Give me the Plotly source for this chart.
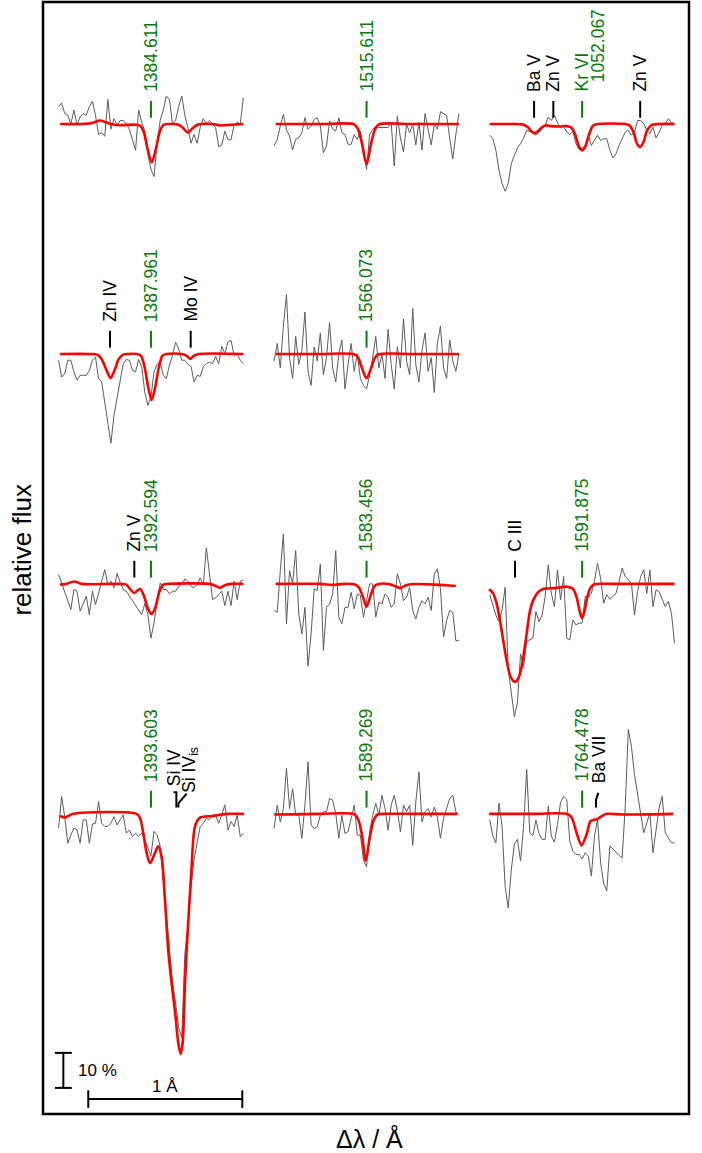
import numpy as np
import plotly.graph_objects as go

# ---------------------------------------------------------------------------
# Observed spectra: relative flux sampled every 0.02 A from -0.60 to +0.60 A
# around the line centre of each panel.
# ---------------------------------------------------------------------------
obs_1384 = [1.05, 1.06, 1.03, 1.025, 1.0, 1.04, 0.997, 1.02, 1.03, 1.025, 1.05, 1.065, 1.025, 0.97, 0.975, 0.965,
            1.07, 0.985, 1.015, 0.997, 1.01, 1.01, 1.0, 0.985, 0.955, 0.925, 1.04, 1.005, 0.98, 0.915, 0.87, 0.85,
            0.945, 1.01, 1.04, 1.08, 1.07, 1.0, 1.01, 1.05, 1.08, 1.025, 0.99, 0.945, 0.97, 0.945, 0.99, 1.015, 1.0,
            1.01, 1.0, 0.99, 0.935, 0.94, 0.98, 0.955, 0.955, 0.997, 1.005, 1.0, 1.075]
obs_1515 = [0.937, 0.956, 0.994, 1.028, 0.983, 0.966, 0.926, 0.956, 0.961, 0.975, 1.018, 0.985, 0.994, 1.013, 1.018,
            0.994, 0.918, 0.937, 1.009, 0.985, 0.98, 1.018, 0.975, 0.97, 0.942, 0.942, 0.97, 0.956, 0.98, 0.918, 0.87,
            0.97, 0.985, 0.994, 0.99, 0.99, 0.99, 0.99, 1.004, 0.88, 1.023, 0.96, 0.92, 1.0, 0.975, 1.0, 0.94, 1.005,
            0.925, 1.03, 0.985, 0.94, 1.0, 0.985, 1.035, 1.03, 1.025, 0.96, 0.90, 0.97, 1.03]
obs_1052 = [0.968, 0.958, 0.925, 0.868, 0.83, 0.808, 0.83, 0.887, 0.91, 0.931, 0.944, 0.96, 0.982, 0.979, 0.975,
            0.968, 0.977, 0.985, 0.996, 1.02, 1.01, 1.025, 1.004, 0.989, 0.994, 0.977, 0.97, 0.979, 0.944, 0.928,
            0.931, 0.939, 0.966, 0.939, 0.953, 0.968, 0.953, 0.958, 0.958, 0.925, 0.903, 0.915, 0.939, 0.958, 0.977,
            0.982, 0.968, 0.977, 1.01, 1.01, 1.001, 0.982, 0.972, 0.991, 0.96, 0.977, 0.996, 1.001, 1.015, 1.004, 1.001]
obs_1387 = [0.982, 0.934, 0.943, 0.982, 0.982, 0.949, 0.925, 0.939, 0.939, 0.939, 0.953, 0.982, 0.991, 0.93, 0.92,
            0.858, 0.796, 0.745, 0.825, 0.877, 0.93, 0.972, 0.984, 0.982, 0.953, 0.949, 0.984, 0.963, 0.891, 0.853,
            0.877, 0.949, 0.97, 0.977, 0.939, 0.93, 0.968, 0.996, 1.034, 1.015, 0.982, 0.982, 0.97, 0.965, 0.92, 0.939,
            0.936, 0.963, 0.972, 0.977, 0.972, 0.993, 0.972, 1.022, 1.001, 1.034, 1.039, 0.996, 0.999, 0.982, 0.972]
obs_1566 = [0.98, 1.03, 0.96, 1.08, 1.17, 0.99, 0.93, 1.05, 0.97, 1.01, 1.12, 0.95, 0.91, 1.02, 0.98, 1.06, 0.94,
            0.99, 1.09, 0.96, 0.92, 1.0, 1.04, 0.9, 0.97, 1.03, 0.95, 1.0, 0.93, 0.91, 0.9, 0.94, 0.99, 1.05, 0.96,
            1.0, 0.93, 1.07, 0.97, 0.9, 1.02, 0.96, 1.1, 0.98, 0.94, 1.13, 0.97, 0.92, 1.01, 1.06, 0.95, 0.99, 0.89,
            1.03, 1.08, 0.96, 0.93, 1.04, 0.98, 0.95, 1.0]
obs_1392 = [1.027, 1.003, 0.979, 0.95, 0.927, 0.984, 0.979, 0.922, 0.946, 0.965, 0.912, 0.979, 0.941, 0.974, 1.003,
            1.041, 0.998, 1.008, 0.989, 1.03, 1.005, 0.984, 0.979, 0.965, 0.955, 0.941, 0.927, 0.912, 0.944, 0.912,
            0.845, 0.889, 0.95, 1.003, 0.984, 0.984, 0.972, 0.979, 0.979, 0.993, 0.998, 1.014, 1.008, 0.993, 0.989,
            0.998, 1.017, 0.998, 1.103, 1.027, 0.955, 0.96, 0.97, 0.979, 0.938, 0.979, 0.938, 1.008, 0.955, 1.008, 1.01]
obs_1583 = [0.924, 0.919, 1.038, 1.143, 0.886, 1.038, 1.0, 1.095, 0.914, 0.857, 0.933, 0.765, 0.857, 0.986, 0.981,
            1.057, 0.81, 0.933, 0.943, 0.971, 1.095, 0.905, 0.886, 0.933, 0.933, 0.976, 0.929, 0.971, 0.967, 0.905,
            0.952, 1.0, 1.0, 0.905, 0.948, 0.943, 0.971, 0.962, 0.933, 0.943, 1.029, 1.0, 0.952, 0.962, 0.99, 0.924,
            0.9, 0.933, 0.952, 0.943, 0.962, 0.924, 1.029, 1.043, 0.986, 0.848, 0.895, 0.924, 0.919, 0.838, 0.838]
obs_1591 = [0.969, 0.94, 0.911, 0.892, 0.925, 0.99, 0.754, 0.69, 0.62, 0.66, 0.8, 0.764, 0.835, 0.84, 0.845, 0.921,
            0.892, 0.911, 0.964, 1.054, 0.973, 0.935, 1.04, 0.954, 1.021, 0.845, 0.84, 0.897, 0.883, 0.888, 0.888,
            0.964, 0.964, 0.973, 1.007, 1.059, 1.016, 0.945, 0.969, 0.956, 0.966, 0.973, 1.007, 1.045, 1.021, 1.011,
            1.002, 0.911, 0.978, 1.021, 1.04, 0.973, 1.04, 0.935, 0.983, 0.978, 0.959, 0.935, 0.95, 0.916, 0.83]
obs_1393 = [0.959, 1.05, 0.992, 0.916, 0.94, 0.959, 0.954, 0.916, 0.983, 0.983, 0.916, 0.971, 0.973, 1.035, 0.973,
            0.964, 0.964, 0.973, 0.992, 0.968, 0.983, 0.997, 0.945, 0.954, 0.935, 0.945, 0.935, 0.945, 0.926, 0.90,
            0.88, 0.95, 0.94, 0.907, 0.811, 0.726, 0.62, 0.52, 0.46, 0.39, 0.36, 0.60, 0.68, 0.79, 0.87, 0.92, 0.964,
            0.973, 0.987, 0.983, 0.997, 0.997, 0.973, 0.997, 1.026, 0.954, 0.978, 0.964, 0.997, 0.935, 0.945]
obs_1589 = [0.958, 1.025, 0.977, 1.015, 1.13, 1.015, 1.072, 0.996, 0.996, 0.93, 1.025, 1.149, 0.968, 0.958, 0.963,
            0.996, 1.006, 1.006, 1.044, 1.039, 1.001, 0.93, 0.996, 0.944, 0.949, 0.987, 1.025, 0.939, 0.939, 0.868,
            0.849, 0.949, 0.996, 1.03, 0.996, 1.053, 1.015, 0.953, 1.025, 1.053, 1.01, 0.949, 1.025, 1.006, 1.025, 0.91,
            1.034, 1.12, 0.977, 1.006, 1.015, 0.991, 1.02, 0.991, 0.93, 0.987, 1.015, 1.044, 1.053, 1.006, 0.996]
obs_1764 = [0.984, 0.936, 0.917, 1.031, 0.965, 0.793, 0.731, 0.84, 0.914, 0.927, 0.865, 0.965, 1.127, 0.946, 0.938,
            0.982, 0.944, 0.927, 0.927, 1.022, 0.936, 0.919, 0.97, 1.033, 1.05, 1.041, 0.922, 0.893, 0.884, 0.884,
            0.871, 0.889, 0.879, 0.822, 0.936, 0.984, 0.86, 0.80, 0.78, 0.908, 0.9, 0.89, 0.881, 0.874, 1.022, 1.241,
            1.193, 1.112, 1.06, 1.008, 0.946, 0.974, 1.003, 0.889, 0.946, 1.017, 1.05, 0.946, 0.931, 0.917, 0.917]

# ---------------------------------------------------------------------------
# Synthetic (model) spectra: wavelength offset [A] and relative flux
# ---------------------------------------------------------------------------
mod_1384_dl = [-0.59, -0.45, -0.38, -0.33, -0.28, -0.22, -0.10, -0.07, -0.045, -0.025, 0.005, 0.035, 0.055, 0.08,
               0.12, 0.18, 0.21, 0.24, 0.27, 0.31, 0.40, 0.45, 0.52, 0.60]
mod_1384_f = [1.0, 1.0, 1.003, 1.01, 1.003, 0.997, 0.998, 0.995, 0.975, 0.935, 0.89, 0.935, 0.975, 0.997, 1.0, 0.998,
              0.988, 0.975, 0.988, 0.999, 1.0, 0.996, 0.998, 1.0]
mod_1515_dl = [-0.59, -0.30, -0.08, -0.055, -0.03, 0.0, 0.03, 0.055, 0.08, 0.30, 0.60]
mod_1515_f = [1.0, 1.0, 0.999, 0.985, 0.945, 0.885, 0.945, 0.985, 0.999, 1.0, 1.0]
mod_1052_dl = [-0.60, -0.45, -0.38, -0.35, -0.33, -0.31, -0.285, -0.26, -0.235, -0.20, -0.15, -0.10, -0.07, -0.045,
               -0.02, 0.0, 0.02, 0.045, 0.07, 0.10, 0.28, 0.31, 0.335, 0.355, 0.376, 0.40, 0.42, 0.45, 0.50, 0.60]
mod_1052_f = [1.0, 1.0, 0.998, 0.99, 0.979, 0.974, 0.98, 0.991, 0.996, 0.994, 0.993, 0.994, 0.99, 0.97, 0.935, 0.925,
              0.935, 0.97, 0.995, 1.0, 1.0, 0.995, 0.975, 0.945, 0.934, 0.95, 0.98, 0.997, 1.0, 1.0]
mod_1387_dl = [-0.59, -0.40, -0.35, -0.32, -0.29, -0.262, -0.235, -0.21, -0.18, -0.15, -0.09, -0.065, -0.04, -0.02,
               0.004, 0.03, 0.05, 0.075, 0.10, 0.20, 0.23, 0.255, 0.28, 0.31, 0.60]
mod_1387_f = [1.0, 1.0, 0.998, 0.985, 0.955, 0.931, 0.955, 0.985, 0.998, 1.0, 1.0, 0.995, 0.96, 0.91, 0.868, 0.91,
              0.96, 0.995, 1.0, 1.0, 0.995, 0.986, 0.995, 1.0, 1.0]
mod_1566_dl = [-0.59, -0.30, -0.08, -0.055, -0.03, 0.0, 0.03, 0.055, 0.08, 0.30, 0.60]
mod_1566_f = [1.0, 1.0, 0.999, 0.99, 0.96, 0.93, 0.96, 0.99, 0.999, 1.0, 1.0]
mod_1392_dl = [-0.59, -0.55, -0.50, -0.45, -0.40, -0.20, -0.16, -0.135, -0.11, -0.085, -0.068, -0.045, -0.02, 0.004,
               0.03, 0.055, 0.08, 0.11, 0.38, 0.42, 0.448, 0.48, 0.52, 0.60]
mod_1392_f = [0.998, 1.0, 1.007, 1.0, 0.999, 1.0, 0.998, 0.985, 0.974, 0.982, 0.985, 0.965, 0.93, 0.914, 0.935, 0.978,
              0.998, 1.0, 1.0, 0.994, 0.989, 0.996, 1.0, 1.0]
mod_1583_dl = [-0.59, -0.30, -0.22, -0.15, -0.08, -0.05, -0.025, 0.0, 0.025, 0.05, 0.08, 0.15, 0.19, 0.22, 0.25,
               0.29, 0.45, 0.58]
mod_1583_f = [1.0, 1.0, 0.997, 1.0, 0.999, 0.99, 0.965, 0.935, 0.965, 0.993, 1.0, 0.999, 0.993, 0.988, 0.995, 0.999,
              0.998, 0.994]
mod_1591_dl = [-0.604, -0.578, -0.556, -0.534, -0.513, -0.491, -0.469, -0.448, -0.43, -0.41, -0.39, -0.361, -0.34,
               -0.318, -0.285, -0.25, -0.18, -0.10, -0.06, -0.035, -0.015, 0.0, 0.017, 0.035, 0.055, 0.08, 0.20, 0.60]
mod_1591_f = [0.985, 0.973, 0.945, 0.897, 0.84, 0.783, 0.74, 0.723, 0.721, 0.735, 0.77, 0.855, 0.92, 0.953, 0.977,
              0.986, 0.988, 0.992, 0.986, 0.96, 0.92, 0.902, 0.925, 0.965, 0.99, 0.999, 1.0, 1.0]
mod_1393_dl = [-0.59, -0.558, -0.504, -0.093, -0.071, -0.05, -0.028, -0.006, 0.026, 0.047, 0.069, 0.091, 0.112,
               0.134, 0.16, 0.177, 0.193, 0.206, 0.214, 0.221, 0.232, 0.264, 0.286, 0.318, 0.403, 0.494, 0.604]
mod_1393_f = [0.994, 0.99, 1.0, 1.0, 0.988, 0.945, 0.888, 0.859, 0.888, 0.907, 0.878, 0.754, 0.611, 0.517, 0.42,
              0.346, 0.314, 0.346, 0.42, 0.517, 0.611, 0.849, 0.964, 0.989, 0.994, 1.0, 1.0]
mod_1589_dl = [-0.60, -0.30, -0.08, -0.055, -0.03, -0.005, 0.02, 0.045, 0.07, 0.10, 0.30, 0.59]
mod_1589_f = [0.998, 1.0, 0.999, 0.985, 0.94, 0.866, 0.93, 0.98, 0.998, 1.0, 1.0, 1.0]
mod_1764_dl = [-0.604, -0.30, -0.10, -0.069, -0.036, -0.004, 0.029, 0.054, 0.075, 0.093, 0.126, 0.158, 0.266, 0.591]
mod_1764_f = [1.0, 1.0, 1.0, 0.99, 0.946, 0.91, 0.941, 0.979, 0.983, 0.984, 0.993, 1.0, 0.998, 1.0]

# line identifications: (offset [A], label, kind)  kind: "fit" = fitted line, "id" = other ion
lines_1384 = [(0.0, "1384.611", "fit")]
lines_1515 = [(0.0, "1515.611", "fit")]
lines_1052 = [(-0.312, "Ba V", "id"), (-0.187, "Zn V", "id"), (0.0, "Kr VI", "fit"), (0.377, "Zn V", "id")]
lines_1387 = [(-0.266, "Zn IV", "id"), (0.0, "1387.961", "fit"), (0.258, "Mo IV", "id")]
lines_1566 = [(0.0, "1566.073", "fit")]
lines_1392 = [(-0.108, "Zn V", "id"), (0.0, "1392.594", "fit")]
lines_1583 = [(0.0, "1583.456", "fit")]
lines_1591 = [(-0.436, "C III", "id"), (0.0, "1591.875", "fit")]
lines_1393 = [(0.0, "1393.603", "fit")]
lines_1589 = [(0.0, "1589.269", "fit")]
lines_1764 = [(0.0, "1764.478", "fit")]

# panel grid: (row, column, observation, model offsets, model flux, line ids)
panels = [
    (0, 0, obs_1384, mod_1384_dl, mod_1384_f, lines_1384),
    (0, 1, obs_1515, mod_1515_dl, mod_1515_f, lines_1515),
    (0, 2, obs_1052, mod_1052_dl, mod_1052_f, lines_1052),
    (1, 0, obs_1387, mod_1387_dl, mod_1387_f, lines_1387),
    (1, 1, obs_1566, mod_1566_dl, mod_1566_f, lines_1566),
    (2, 0, obs_1392, mod_1392_dl, mod_1392_f, lines_1392),
    (2, 1, obs_1583, mod_1583_dl, mod_1583_f, lines_1583),
    (2, 2, obs_1591, mod_1591_dl, mod_1591_f, lines_1591),
    (3, 0, obs_1393, mod_1393_dl, mod_1393_f, lines_1393),
    (3, 1, obs_1589, mod_1589_dl, mod_1589_f, lines_1589),
    (3, 2, obs_1764, mod_1764_dl, mod_1764_f, lines_1764),
]

# ---------------------------------------------------------------------------
# layout constants
# ---------------------------------------------------------------------------
COL_X = [0.0, 1.4, 2.8]                 # A, horizontal shift of each column
ROW_Y = [0.0, -0.657, -1.314, -1.971]   # vertical shift of each row (flux units)
GREEN = "#0b7a0b"
FONT = "Liberation Sans, Arial, sans-serif"
ID_SIZE = 17.5        # rotated line identifications
SMALL_SIZE = 17       # scale-bar captions
TICK_LO, TICK_HI, TEXT_Y = 0.018, 0.066, 0.086

fig = go.Figure()
shapes = []
annotations = []


def rotated_label(x, y, text, colr):
    return dict(x=x, y=y, xref="x", yref="y", text=text, textangle=-90, showarrow=False,
                xanchor="center", yanchor="bottom", font=dict(family=FONT, size=ID_SIZE, color=colr))


for row, col, obs, mdl, mf, ids in panels:
    x0, y0 = COL_X[col], ROW_Y[row]
    dl_obs = np.linspace(-0.60, 0.60, len(obs))
    fig.add_trace(go.Scatter(x=x0 + dl_obs, y=y0 + np.array(obs) - 1.0, mode="lines",
                             line=dict(color="#5c5c5c", width=1), hoverinfo="skip", showlegend=False))
    fig.add_trace(go.Scatter(x=x0 + np.array(mdl), y=y0 + np.array(mf) - 1.0, mode="lines",
                             line=dict(color="#ff0000", width=2.6, shape="spline", smoothing=0.8),
                             hoverinfo="skip", showlegend=False))
    for dl, label, kind in ids:
        colr = GREEN if kind == "fit" else "black"
        shapes.append(dict(type="line", xref="x", yref="y", x0=x0 + dl, x1=x0 + dl,
                           y0=y0 + TICK_LO, y1=y0 + TICK_HI, line=dict(color=colr, width=2)))
        annotations.append(rotated_label(x0 + dl, y0 + TEXT_Y, label, colr))

# second line of the Kr VI identification
annotations.append(rotated_label(COL_X[2] + 0.100, ROW_Y[0] + 0.114, "1052.067", GREEN))

# Si IV and interstellar Si IV in the 1393.603 panel
x0, y0 = COL_X[0], ROW_Y[3]
shapes.append(dict(type="path", xref="x", yref="y",
                   path=f"M {x0 + 0.165} {y0 + TICK_LO} L {x0 + 0.165} {y0 + 0.062} L {x0 + 0.147} {y0 + 0.062}",
                   line=dict(color="black", width=2)))
shapes.append(dict(type="path", xref="x", yref="y",
                   path=f"M {x0 + 0.178} {y0 + TICK_LO} L {x0 + 0.178} {y0 + 0.03} L {x0 + 0.232} {y0 + 0.058}",
                   line=dict(color="black", width=2)))
annotations.append(rotated_label(x0 + 0.15, y0 + 0.072, "Si IV", "black"))
annotations.append(rotated_label(x0 + 0.255, y0 + 0.055, "Si IV<sub>is</sub>", "black"))

# Ba VII in the 1764.478 panel
x0, y0 = COL_X[2], ROW_Y[3]
shapes.append(dict(type="path", xref="x", yref="y",
                   path=f"M {x0 + 0.09} {y0 + TICK_LO} L {x0 + 0.09} {y0 + 0.04} L {x0 + 0.105} {y0 + 0.06}",
                   line=dict(color="black", width=2)))
annotations.append(rotated_label(x0 + 0.11, y0 + 0.082, "Ba VII", "black"))

# scale bars: 10 % in flux and 1 A in wavelength
SB_X, SB_Y = -0.569, -2.754
shapes += [
    dict(type="line", xref="x", yref="y", x0=SB_X, x1=SB_X, y0=SB_Y, y1=SB_Y + 0.10, line=dict(color="black", width=2)),
    dict(type="line", xref="x", yref="y", x0=SB_X - 0.055, x1=SB_X + 0.055, y0=SB_Y, y1=SB_Y,
         line=dict(color="black", width=2)),
    dict(type="line", xref="x", yref="y", x0=SB_X - 0.055, x1=SB_X + 0.055, y0=SB_Y + 0.10, y1=SB_Y + 0.10,
         line=dict(color="black", width=2)),
]
HB_X, HB_Y = -0.407, -2.786
shapes += [
    dict(type="line", xref="x", yref="y", x0=HB_X, x1=HB_X + 1.0, y0=HB_Y, y1=HB_Y, line=dict(color="black", width=2)),
    dict(type="line", xref="x", yref="y", x0=HB_X, x1=HB_X, y0=HB_Y - 0.025, y1=HB_Y + 0.025,
         line=dict(color="black", width=2)),
    dict(type="line", xref="x", yref="y", x0=HB_X + 1.0, x1=HB_X + 1.0, y0=HB_Y - 0.025, y1=HB_Y + 0.025,
         line=dict(color="black", width=2)),
]
annotations.append(dict(x=SB_X + 0.085, y=SB_Y + 0.05, xref="x", yref="y", text="10 %", showarrow=False,
                        xanchor="left", yanchor="middle", font=dict(family=FONT, size=SMALL_SIZE, color="black")))
annotations.append(dict(x=HB_X + 0.5, y=HB_Y + 0.004, xref="x", yref="y", text="1 Å", showarrow=False,
                        xanchor="center", yanchor="bottom", font=dict(family=FONT, size=SMALL_SIZE, color="black")))

# frame and axis titles
shapes.append(dict(type="rect", xref="paper", yref="paper", x0=0, x1=1, y0=0, y1=1,
                   line=dict(color="black", width=2.5)))
annotations.append(dict(x=-0.0325, y=0.5076, xref="paper", yref="paper", text="relative flux", textangle=-90,
                        showarrow=False, xanchor="center", yanchor="middle",
                        font=dict(family=FONT, size=26, color="black")))
annotations.append(dict(x=0.506, y=-0.0216, xref="paper", yref="paper", text="Δλ / Å", showarrow=False,
                        xanchor="center", yanchor="middle", font=dict(family=FONT, size=25, color="black")))

fig.update_layout(
    width=702, height=1153,
    margin=dict(l=43, r=13, t=2, b=39),
    paper_bgcolor="white", plot_bgcolor="white",
    xaxis=dict(range=[-0.701, 3.494], visible=False, fixedrange=True),
    yaxis=dict(range=[-2.8286, 0.3486], visible=False, fixedrange=True),
    shapes=shapes, annotations=annotations,
    showlegend=False,
)

fig.write_html("out.html")
